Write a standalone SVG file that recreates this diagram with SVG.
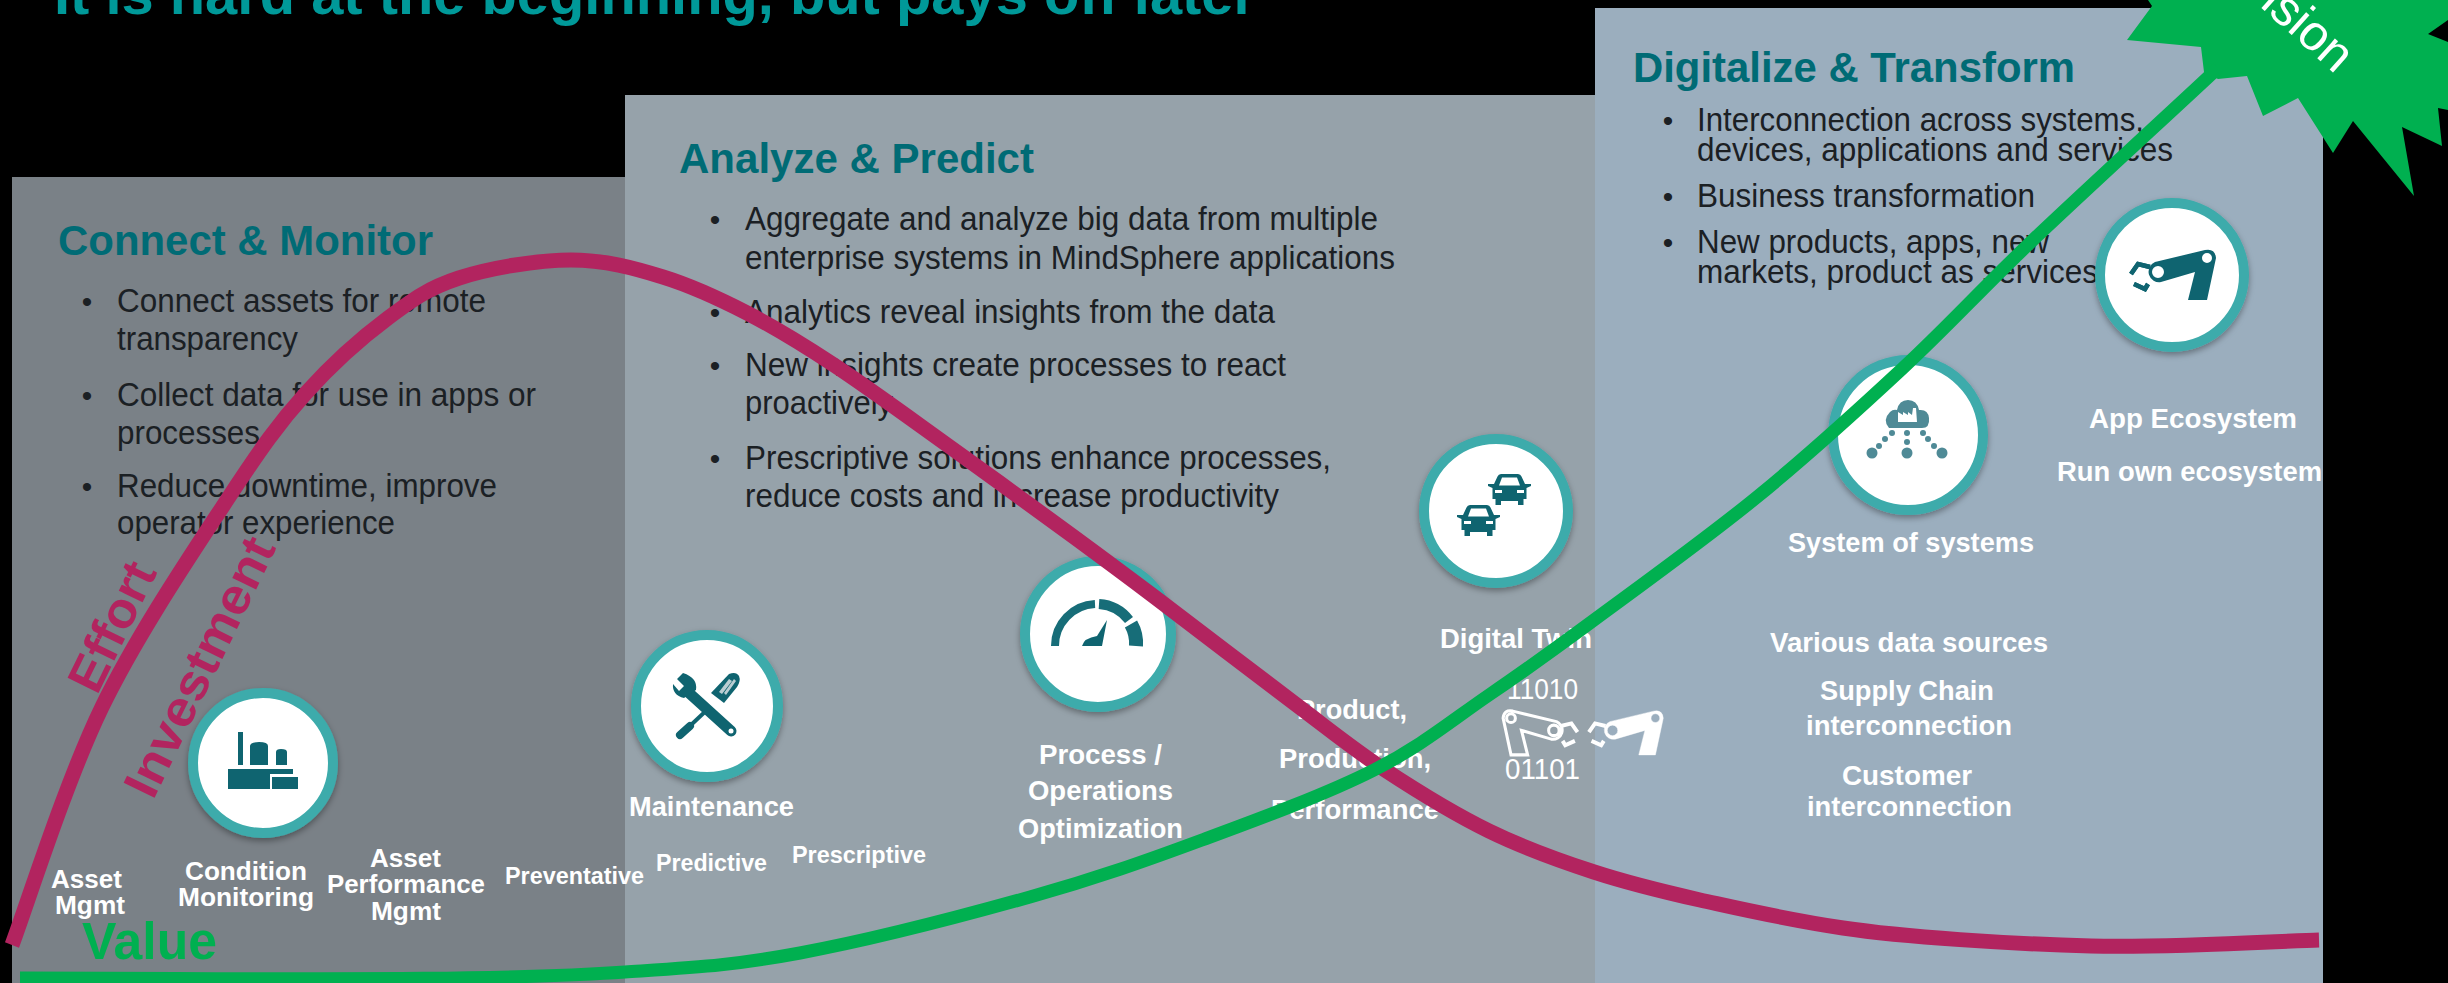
<svg xmlns="http://www.w3.org/2000/svg" xmlns:xlink="http://www.w3.org/1999/xlink" width="2448" height="983" viewBox="0 0 2448 983">
<style>
text{font-family:"Liberation Sans",Arial,sans-serif}
.t{font-size:58px;font-weight:700;fill:#009999}
.h{font-size:42px;font-weight:700;fill:#006b75}
.b{font-size:33px;fill:#1b2024}
.d{font-size:30px;fill:#1b2024;text-anchor:middle}
.w{font-size:26px;font-weight:700;fill:#fff}
.n{font-size:29px;fill:#fff}
.ring{fill:#fff;stroke:#3dabab;stroke-width:10;filter:url(#sh)}
.ic{fill:#0f6470}
.fade{fill:#4f8a96}
.curve{fill:none;stroke-width:15;stroke-linecap:butt}
#value-curve{stroke-width:13}
</style>
<defs>
<filter id="sh" x="-20%" y="-20%" width="140%" height="140%"><feDropShadow dx="0" dy="3" stdDeviation="3" flood-color="#000" flood-opacity=".35"/></filter>
<g id="car">
<path class="ic" fill-rule="evenodd" d="M0 10H6L9.500 2.500Q10.500 0 13 0H30Q32.500 0 33.500 2.500L37 10H43V12L38.500 14V25H35.500V31H30V27H13V31H7.500V25H4.500V14L0 12ZM11 11.500H32L29 3.500H14ZM7 16V19H14V16ZM29 16V19H36V16Z"/>
</g>
<g id="robot">
<path fill-rule="evenodd" d="M60 67L110 55Q120 53 121 63L112 105H93L100 77L66 87A10.500 10.500 0 0 1 60 67ZM112 58A5 5 0 1 0 112 68A5 5 0 1 0 112 58ZM63 71A6 6 0 1 0 63 83A6 6 0 1 0 63 71Z"/>
<path fill="none" stroke-width="4.500" d="M55 72L43 69L36 79M53 89L50 94L39 89"/>
</g>
</defs>
<rect width="2448" height="983" fill="#000"/>
<g id="panels">
<rect id="panel-connect" x="12" y="177" width="613" height="806" fill="#7a8187"/>
<rect id="panel-analyze" x="625" y="95" width="970" height="888" fill="#96a2aa"/>
<rect id="panel-digitalize" x="1595" y="8" width="728" height="975" fill="#9baebe"/>
</g>
<text id="title" class="t" x="54" y="14" textLength="1202" lengthAdjust="spacingAndGlyphs">It is hard at the beginning, but pays off later</text>
<g id="text-connect">
<text class="h" x="58" y="255" textLength="375" lengthAdjust="spacingAndGlyphs">Connect &amp; Monitor</text>
<text class="d" x="87" y="312">•</text>
<text class="b" x="117" y="312" textLength="369" lengthAdjust="spacingAndGlyphs">Connect assets for remote</text>
<text class="b" x="117" y="350" textLength="181" lengthAdjust="spacingAndGlyphs">transparency</text>
<text class="d" x="87" y="406">•</text>
<text class="b" x="117" y="406" textLength="419" lengthAdjust="spacingAndGlyphs">Collect data for use in apps or</text>
<text class="b" x="117" y="444" textLength="143" lengthAdjust="spacingAndGlyphs">processes</text>
<text class="d" x="87" y="497">•</text>
<text class="b" x="117" y="497" textLength="380" lengthAdjust="spacingAndGlyphs">Reduce downtime, improve</text>
<text class="b" x="117" y="534" textLength="278" lengthAdjust="spacingAndGlyphs">operator experience</text>
</g>
<g id="text-analyze">
<text class="h" x="679" y="173" textLength="355" lengthAdjust="spacingAndGlyphs">Analyze &amp; Predict</text>
<text class="d" x="715" y="230">•</text>
<text class="b" x="745" y="230" textLength="633" lengthAdjust="spacingAndGlyphs">Aggregate and analyze big data from multiple</text>
<text class="b" x="745" y="269" textLength="650" lengthAdjust="spacingAndGlyphs">enterprise systems in MindSphere applications</text>
<text class="d" x="715" y="323">•</text>
<text class="b" x="745" y="323" textLength="530" lengthAdjust="spacingAndGlyphs">Analytics reveal insights from the data</text>
<text class="d" x="715" y="376">•</text>
<text class="b" x="745" y="376" textLength="541" lengthAdjust="spacingAndGlyphs">New insights create processes to react</text>
<text class="b" x="745" y="414" textLength="148" lengthAdjust="spacingAndGlyphs">proactively</text>
<text class="d" x="715" y="469">•</text>
<text class="b" x="745" y="469" textLength="586" lengthAdjust="spacingAndGlyphs">Prescriptive solutions enhance processes,</text>
<text class="b" x="745" y="507" textLength="534" lengthAdjust="spacingAndGlyphs">reduce costs and increase productivity</text>
</g>
<g id="text-digitalize">
<text class="h" x="1633" y="82" textLength="442" lengthAdjust="spacingAndGlyphs">Digitalize &amp; Transform</text>
<text class="d" x="1668" y="131">•</text>
<text class="b" x="1697" y="131" textLength="447" lengthAdjust="spacingAndGlyphs">Interconnection across systems,</text>
<text class="b" x="1697" y="161" textLength="476" lengthAdjust="spacingAndGlyphs">devices, applications and services</text>
<text class="d" x="1668" y="207">•</text>
<text class="b" x="1697" y="207" textLength="338" lengthAdjust="spacingAndGlyphs">Business transformation</text>
<text class="d" x="1668" y="253">•</text>
<text class="b" x="1697" y="253" textLength="352" lengthAdjust="spacingAndGlyphs">New products, apps, new</text>
<text class="b" x="1697" y="283" textLength="401" lengthAdjust="spacingAndGlyphs">markets, product as services</text>
</g>
<g id="node-asset-mgmt">
<text class="w" x="51" y="888" textLength="71" lengthAdjust="spacingAndGlyphs">Asset</text>
<text class="w" x="55" y="914" textLength="70" lengthAdjust="spacingAndGlyphs">Mgmt</text>
</g>
<g id="node-condition">
<circle class="ring" cx="263" cy="763" r="70"/>
<path class="ic" d="M238 732H243V765H238ZM250 746Q250 742 259 742Q268 742 268 746V765H250ZM276 752Q276 749 281 749Q287 749 287 752V765H276ZM228 769H293V774H270V789H228ZM272 777H298V789H272Z"/>
<text class="w" x="185" y="880" textLength="122" lengthAdjust="spacingAndGlyphs">Condition</text>
<text class="w" x="178" y="906" textLength="136" lengthAdjust="spacingAndGlyphs">Monitoring</text>
</g>
<g id="node-apm">
<text class="w" x="370" y="867" textLength="71" lengthAdjust="spacingAndGlyphs">Asset</text>
<text class="w" x="327" y="893" textLength="158" lengthAdjust="spacingAndGlyphs">Performance</text>
<text class="w" x="371" y="920" textLength="70" lengthAdjust="spacingAndGlyphs">Mgmt</text>
</g>
<g id="node-preventative"><text class="w" style="font-size:23.500px" x="505" y="884" textLength="139" lengthAdjust="spacingAndGlyphs">Preventative</text></g>
<g id="node-maintenance">
<circle class="ring" cx="707" cy="706" r="71"/>
<path class="ic" d="M729 674Q736 671 739 676Q741 681 737 687L724 703L711 693Z"/>
<path fill="#b9cdd2" d="M729 679L732 681L722 694L719 692ZM734 679L736 681L726 695L724 693Z"/>
<path fill="none" stroke="#0f6470" stroke-width="4" d="M709 708L692 724"/>
<path fill="none" stroke="#0f6470" stroke-width="8" stroke-linecap="round" d="M690 726L680 735"/>
<path fill="none" stroke="#0f6470" stroke-width="11" stroke-linecap="round" d="M688 692L731 731"/>
<path class="ic" d="M683 673L677 679L684 686L679 691L673 684Q672 695 684 698L696 690Q698 678 683 673Z"/>
<circle cx="731" cy="731" r="2.500" fill="#fff"/>
<text class="w" style="font-size:27px" x="629" y="816" textLength="165" lengthAdjust="spacingAndGlyphs">Maintenance</text>
</g>
<g id="node-predictive"><text class="w" style="font-size:23.500px" x="656" y="871" textLength="111" lengthAdjust="spacingAndGlyphs">Predictive</text></g>
<g id="node-prescriptive"><text class="w" style="font-size:23.500px" x="792" y="863" textLength="134" lengthAdjust="spacingAndGlyphs">Prescriptive</text></g>
<g id="node-process">
<circle class="ring" cx="1098" cy="634" r="73"/>
<path fill="none" stroke="#176d78" d="M1055 646A42 42 0 0 1 1095 604" stroke-width="8"/>
<path fill="none" stroke="#176d78" d="M1099 604A41 41 0 0 1 1129 620" stroke-width="10"/>
<path fill="none" stroke="#176d78" d="M1131 624A39 39 0 0 1 1136 646" stroke-width="14"/>
<path class="ic" d="M1082 646Q1084 638 1097 636L1107 620L1102 646Z"/>
<text class="w" style="font-size:27px" x="1039" y="764" textLength="123" lengthAdjust="spacingAndGlyphs">Process /</text>
<text class="w" style="font-size:27px" x="1028" y="800" textLength="145" lengthAdjust="spacingAndGlyphs">Operations</text>
<text class="w" style="font-size:27px" x="1018" y="838" textLength="165" lengthAdjust="spacingAndGlyphs">Optimization</text>
</g>
<g id="node-product">
<text class="w" style="font-size:27px" x="1297" y="719" textLength="110" lengthAdjust="spacingAndGlyphs">Product,</text>
<text class="w" style="font-size:27px" x="1279" y="768" textLength="152" lengthAdjust="spacingAndGlyphs">Production,</text>
<text class="w" style="font-size:27px" x="1271" y="819" textLength="168" lengthAdjust="spacingAndGlyphs">Performance</text>
</g>
<g id="node-digital-twin">
<circle class="ring" cx="1496" cy="511" r="72"/>
<use xlink:href="#car" href="#car" x="1488" y="474"/>
<use xlink:href="#car" href="#car" x="1457" y="505"/>
<text class="w" style="font-size:27px" x="1440" y="648" textLength="152" lengthAdjust="spacingAndGlyphs">Digital Twin</text>
<text class="n" x="1507" y="699" textLength="71" lengthAdjust="spacingAndGlyphs">11010</text>
<text class="n" x="1505" y="779" textLength="75" lengthAdjust="spacingAndGlyphs">01101</text>
<use xlink:href="#robot" href="#robot" transform="translate(1609 663) scale(-.875 .875)" style="fill:none;stroke:#fff;stroke-width:3.500"/>
<use xlink:href="#robot" href="#robot" transform="translate(1557.400 663) scale(.875)" style="fill:#fff;stroke:#fff;stroke-width:.5"/>
</g>
<g id="node-system">
<circle class="ring" cx="1908" cy="435" r="75"/>
<path class="fade" d="M1889 428Q1882 420 1890 412Q1893 409 1897 410Q1899 400 1908 400Q1917 400 1919 410Q1928 409 1929 418Q1930 428 1922 428Z"/>
<path fill="#fff" d="M1898 422V412L1903 415V412L1908 415V412L1912 415L1913 408H1916L1917 422Z"/>
<g class="fade">
<circle cx="1872" cy="453" r="5.500"/><circle cx="1907" cy="453" r="5.500"/><circle cx="1942" cy="453" r="5.500"/>
<circle cx="1892" cy="433" r="3"/><circle cx="1885" cy="439" r="3"/><circle cx="1879" cy="446" r="3"/>
<circle cx="1907" cy="433" r="3"/><circle cx="1907" cy="442" r="3"/>
<circle cx="1923" cy="433" r="3"/><circle cx="1928" cy="439" r="3"/><circle cx="1934" cy="446" r="3"/>
</g>
<text class="w" style="font-size:27px" x="1788" y="552" textLength="246" lengthAdjust="spacingAndGlyphs">System of systems</text>
</g>
<g id="node-sources">
<text class="w" style="font-size:27px" x="1770" y="652" textLength="278" lengthAdjust="spacingAndGlyphs">Various data sources</text>
<text class="w" style="font-size:27px" x="1820" y="700" textLength="174" lengthAdjust="spacingAndGlyphs">Supply Chain</text>
<text class="w" style="font-size:27px" x="1806" y="735" textLength="206" lengthAdjust="spacingAndGlyphs">interconnection</text>
<text class="w" style="font-size:27px" x="1842" y="785" textLength="130" lengthAdjust="spacingAndGlyphs">Customer</text>
<text class="w" style="font-size:27px" x="1807" y="816" textLength="205" lengthAdjust="spacingAndGlyphs">interconnection</text>
</g>
<g id="node-app">
<circle class="ring" cx="2172" cy="275" r="72"/>
<use xlink:href="#robot" href="#robot" transform="translate(2095 195)" style="fill:#0f6470;stroke:#0f6470;stroke-width:0"/>
<path fill="none" stroke="#0f6470" stroke-width="4.500" d="M2150 267L2138 264L2131 274M2148 284L2145 289L2134 284"/>
<text class="w" style="font-size:27px" x="2089" y="428" textLength="208" lengthAdjust="spacingAndGlyphs">App Ecosystem</text>
<text class="w" style="font-size:27px" x="2057" y="481" textLength="265" lengthAdjust="spacingAndGlyphs">Run own ecosystem</text>
</g>
<g id="node-vision">
<polygon fill="#00b050" points="2148,0 2152,6 2127,40 2201,47 2204,72 2218,79 2247,76 2263,116 2298,98 2333,153 2353,121 2414,196 2402,127 2442,146 2438,108 2448,110 2448,42 2428,34 2448,20 2448,0"/>
<text x="2235" y="-16" transform="rotate(42 2235 -16)" style="font-size:50px;fill:#fff">Vision</text>
</g>
<g id="connectors">
<path id="effort-curve" class="curve" stroke="#b2245f" d="M12 945C27 905,66 781,102 707C138 633,193 552,227 500C261 448,279 423,306 393C333 363,362.500 337,388 318C413.500 299,428.500 288,459 278C489.500 268,537 260,571 260C605 260,634 268,663 277C692 286,718.500 298.300,747 313C775.500 327.700,800.200 342.700,834 365C867.800 387.300,910 418.300,950 447C990 475.700,1039.700 511.800,1074 537C1108.300 562.200,1119.300 570.300,1156 598C1192.700 625.700,1255.800 674.300,1294 703C1332.200 731.700,1352.500 748.700,1385 770C1417.500 791.300,1454.200 814,1489 831C1523.800 848,1558.800 860.500,1594 872C1629.200 883.500,1659 890.700,1700 900C1741 909,1783 919,1843 928C1903 937,2012 944,2091 946C2170 948,2281 941,2319 940"/>
<path id="value-curve" class="curve" stroke="#00b050" d="M20 978C250 978,480 982,625 972C700 967,732.500 965.500,800 953C867.500 940.500,963 915.800,1030 897C1097 878.200,1144.700 861.200,1202 840C1259.300 818.800,1326.200 794.200,1374 770C1421.800 745.800,1452.300 720,1489 695C1525.700 670,1549.300 653,1594 620C1638.700 587,1705.500 539,1757 497C1808.500 455,1857 410.800,1903 368C1949 325.200,1981.700 288.800,2033 240C2084.300 191.200,2181.300 102.500,2218 68"/>
</g>
<g id="curve-labels">
<text x="97" y="696" transform="rotate(-64 97 696)" textLength="138" lengthAdjust="spacingAndGlyphs" style="font-size:50px;font-weight:700;fill:#b2245f">Effort</text>
<text x="153" y="801" transform="rotate(-64 153 801)" textLength="282" lengthAdjust="spacingAndGlyphs" style="font-size:50px;font-weight:700;fill:#b2245f">Investment</text>
<text x="82" y="959" textLength="135" lengthAdjust="spacingAndGlyphs" style="font-size:51px;font-weight:700;fill:#00b050">Value</text>
</g>
</svg>
